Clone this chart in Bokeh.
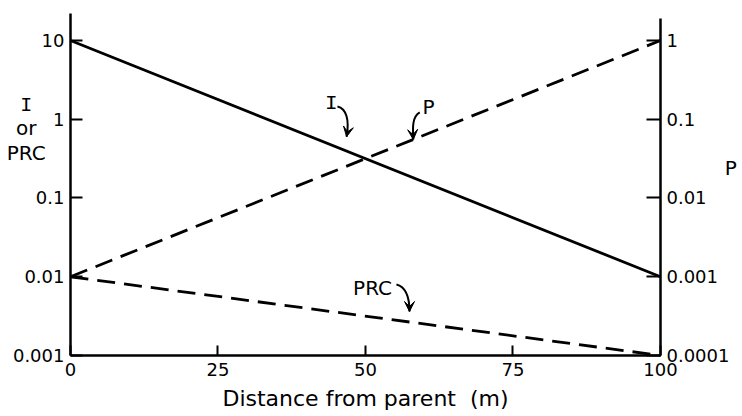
from bokeh.plotting import figure
from bokeh.models import Range1d, LogScale, LogAxis, LinearAxis, FixedTicker, Label, Arrow, VeeHead
from bokeh.embed import file_html
from bokeh.resources import INLINE

# Distance from the parent tree (m) and the three quantities at both ends
distance_m = [0, 100]
intensity = [10, 0.01]      # I, left axis
prc = [0.01, 0.001]         # PRC, left axis
prob = [0.001, 1]           # P, right axis

x_ticks = [0, 25, 50, 75, 100]
left_ticks = [0.001, 0.01, 0.1, 1, 10]
left_labels = ["0.001", "0.01", "0.1", "1", "10"]
right_ticks = [0.0001, 0.001, 0.01, 0.1, 1]
right_labels = ["0.0001", "0.001", "0.01", "0.1", "1"]

FONT = "DejaVu Sans"
SERIF_I = "Liberation Mono"
FS = "18px"

# The frame fills the canvas; the axes sit at fixed data locations inside it so
# that the side titles can be drawn as ordinary labels.
p = figure(width=742, height=416, output_backend="svg", toolbar_location=None,
           x_range=Range1d(-11.86, 113.9), y_range=Range1d(1.68e-4, 32.2),
           y_axis_type="log", x_axis_location=None, y_axis_location=None,
           min_border=0)
p.outline_line_color = None
p.xgrid.visible = False
p.ygrid.visible = False
p.background_fill_color = "white"
p.border_fill_color = "white"

p.extra_y_ranges = {"prob": Range1d(1.68e-5, 3.22)}
p.extra_y_scales = {"prob": LogScale()}

bottom_axis = LinearAxis(ticker=FixedTicker(ticks=x_ticks), fixed_location=0.001,
                         bounds=(0, 100), axis_label="Distance from parent\u00a0\u00a0(m)")
left_axis = LogAxis(ticker=FixedTicker(ticks=left_ticks), fixed_location=0,
                    bounds=(0.001, 22))
right_axis = LogAxis(y_range_name="prob", ticker=FixedTicker(ticks=right_ticks),
                     fixed_location=100, bounds=(0.0001, 1.9))
left_axis.major_label_overrides = dict(zip(left_ticks, left_labels))
right_axis.major_label_overrides = dict(zip(right_ticks, right_labels))
p.add_layout(bottom_axis, "below")
p.add_layout(left_axis, "left")
p.add_layout(right_axis, "right")

for ax in (bottom_axis, left_axis, right_axis):
    ax.axis_line_width = 2.5
    ax.axis_line_color = "black"
    ax.major_tick_line_width = 2
    ax.major_tick_line_color = "black"
    ax.major_tick_out = 0
    ax.major_tick_in = 12
    ax.minor_tick_out = 0
    ax.minor_tick_in = 0
    ax.minor_tick_line_color = None
    ax.major_label_text_font = FONT
    ax.major_label_text_font_size = FS
    ax.major_label_text_color = "black"
    ax.major_label_standoff = 6
    ax.axis_label_text_font = FONT
    ax.axis_label_text_font_size = "22px"
    ax.axis_label_text_font_style = "normal"
    ax.axis_label_text_color = "black"
    ax.axis_label_standoff = 6
bottom_axis.major_tick_in = 10
bottom_axis.major_label_standoff = 8
right_axis.major_tick_in = 14

# The three lines
p.line(distance_m, intensity, line_color="black", line_width=2.8)
p.line(distance_m, prob, y_range_name="prob", line_color="black", line_width=2.8,
       line_dash="18 9")
p.line(distance_m, prc, line_color="black", line_width=2.8, line_dash="18 9")

# Axis titles beside the axes: "I or PRC" on the left, "P" on the right
side_title_text = ["I", "or", "PRC"]
side_title_y = [1.5, 0.764, 0.378]
side_title_font = [SERIF_I, FONT, FONT]
for txt, yy, fnt in zip(side_title_text, side_title_y, side_title_font):
    p.add_layout(Label(x=-7.5, y=yy, text=txt, text_font=fnt, text_font_size="20px",
                       text_color="black", text_align="center", text_baseline="middle"))
p.add_layout(Label(x=111.9, y=0.237, text="P",
                   text_font=FONT, text_font_size="20px", text_color="black",
                   text_align="center", text_baseline="middle"))

# Curve labels with curved pointers
p.add_layout(Label(x=44.2, y=1.58, text="I", text_font=SERIF_I,
                   text_font_size="21px", text_color="black",
                   text_align="center", text_baseline="middle"))
p.add_layout(Label(x=60.7, y=1.45, text="P", text_font=FONT, text_font_size="20px",
                   text_color="black", text_align="center", text_baseline="middle"))
p.add_layout(Label(x=51.2, y=0.0073, text="PRC", text_font=FONT, text_font_size="20px",
                   text_color="black", text_align="center", text_baseline="middle"))

pointer_x0 = [45.25, 59.2, 55.25]
pointer_y0 = [1.45, 1.22, 0.00798]
pointer_cx0 = [46.8, 57.97, 56.6]
pointer_cy0 = [1.37, 1.08, 0.00751]
pointer_cx1 = [47.3, 57.97, 57.46]
pointer_cy1 = [0.96, 0.81, 0.00578]
pointer_x1 = [46.8, 58.1, 57.46]
pointer_y1 = [0.60, 0.553, 0.00362]
p.bezier(x0=pointer_x0, y0=pointer_y0, x1=pointer_x1, y1=pointer_y1,
         cx0=pointer_cx0, cy0=pointer_cy0, cx1=pointer_cx1, cy1=pointer_cy1,
         line_color="black", line_width=2)
for xs, ys, xe, ye in zip(pointer_cx1, pointer_cy1, pointer_x1, pointer_y1):
    p.add_layout(Arrow(end=VeeHead(size=10, fill_color="black", line_color="black"),
                       x_start=xs, y_start=ys, x_end=xe, y_end=ye, line_alpha=0))

open("out.html", "w").write(file_html(p, INLINE))
